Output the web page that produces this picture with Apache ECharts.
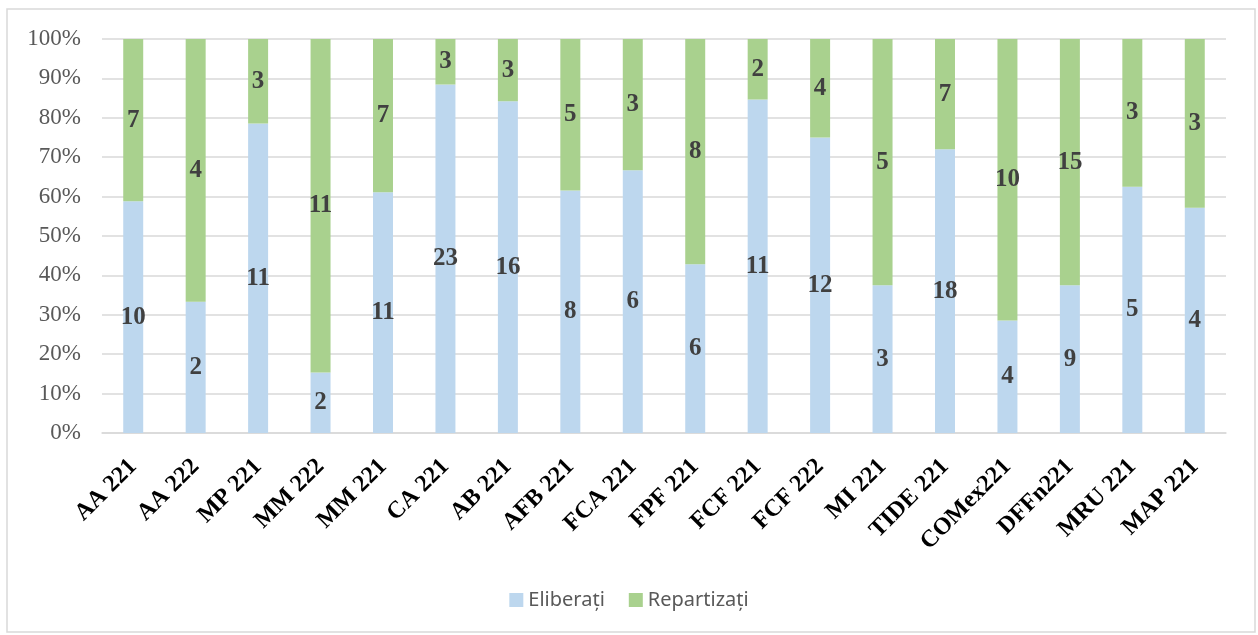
<!DOCTYPE html>
<html>
<head>
<meta charset="utf-8">
<script src="https://cdn.jsdelivr.net/npm/echarts@6/dist/echarts.min.js"></script>
<style>
html,body{margin:0;padding:0;background:#fff;}
#c{width:1258px;height:635px;}
</style>
</head>
<body>
<div id="c"></div>
<script>
const categories = ['AA 221','AA 222','MP 221','MM 222','MM 221','CA 221','AB 221','AFB 221','FCA 221','FPF 221','FCF 221','FCF 222','MI 221','TIDE 221','COMex221','DFFn221','MRU 221','MAP 221'];
const eliberati = [10,2,11,2,11,23,16,8,6,6,11,12,3,18,4,9,5,4];
const repartizati = [7,4,3,11,7,3,3,5,3,8,2,4,5,7,10,15,3,3];
const yTicks = [0,10,20,30,40,50,60,70,80,90,100];

const totals = eliberati.map((v,i)=>v+repartizati[i]);
const pctE = eliberati.map((v,i)=>v/totals[i]*100);
const pctR = repartizati.map((v,i)=>v/totals[i]*100);

const serif = '"Liberation Serif","Times New Roman",serif';
const chart = echarts.init(document.getElementById('c'));
const labelStyle = {
  show:true, position:'inside', fontFamily:serif,
  fontWeight:'bold', fontSize:25, color:'#404040'
};
chart.setOption({
  animation:false,
  graphic:[{type:'rect', shape:{x:7,y:9,width:1248,height:623}, style:{fill:'none', stroke:'#d9d9d9', lineWidth:1.5}}],
  grid:{left:102,right:32,top:39,bottom:202},
  legend:{
    bottom:20, left:'center', itemWidth:14, itemHeight:14, itemGap:24, icon:'rect',
    textStyle:{fontFamily:'"Noto Sans",sans-serif', fontSize:20, color:'#595959'},
    data:['Eliberați','Repartizați']
  },
  xAxis:{
    type:'category', data:categories,
    axisLine:{lineStyle:{color:'#d9d9d9', width:1.5}},
    axisTick:{show:false},
    axisLabel:{rotate:45, interval:0, margin:30, fontFamily:serif, fontWeight:'bold', fontSize:24, color:'#000'}
  },
  yAxis:{
    type:'value', min:0, max:100, interval:10,
    axisLine:{show:false}, axisTick:{show:false},
    splitLine:{lineStyle:{color:'#d9d9d9', width:1.5}},
    axisLabel:{formatter:v=>v+'%', margin:21, fontFamily:serif, fontSize:23, color:'#595959'}
  },
  series:[
    {name:'Eliberați', type:'bar', stack:'s', barWidth:'32%', data:pctE,
     itemStyle:{color:'#bdd7ee'},
     label:Object.assign({}, labelStyle, {formatter:p=>eliberati[p.dataIndex]})},
    {name:'Repartizați', type:'bar', stack:'s', barWidth:'32%', data:pctR,
     itemStyle:{color:'#a9d18e'},
     label:Object.assign({}, labelStyle, {formatter:p=>repartizati[p.dataIndex]})}
  ]
});
</script>
</body>
</html>
